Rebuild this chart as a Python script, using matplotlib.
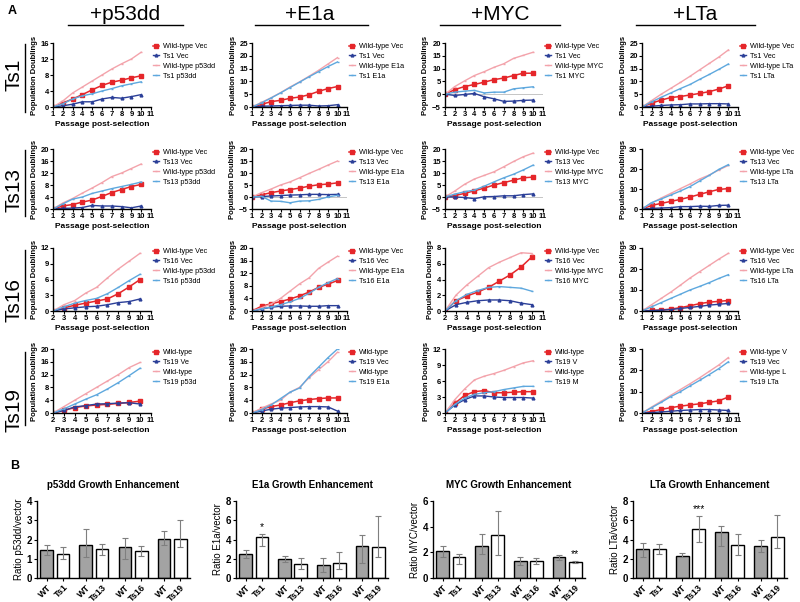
import matplotlib
matplotlib.use("Agg")
import matplotlib.pyplot as plt
import numpy as np

plt.rcParams['font.family'] = ['Liberation Sans', 'DejaVu Sans']

# ---------------- DATA ----------------
columns = ["+p53dd", "+E1a", "+MYC", "+LTa"]
rows = ["Ts1", "Ts13", "Ts16", "Ts19"]

passages_from1 = [1, 2, 3, 4, 5, 6, 7, 8, 9, 10]
passages_from2 = [2, 3, 4, 5, 6, 7, 8, 9, 10]

# each panel: [WT Vec, Ts Vec, WT +gene, Ts +gene]
ts1_p53dd = [[0, 1.0, 2.0, 3.1, 4.3, 5.4, 6.2, 6.7, 7.3, 7.8],
             [0, 0.3, 0.7, 1.3, 1.3, 2.0, 2.4, 2.2, 2.6, 3.1],
             [0, 1.5, 3.5, 5.0, 6.5, 8.0, 9.5, 10.8, 12.0, 13.7],
             [0, 0.8, 2.0, 2.8, 3.3, 4.0, 4.6, 5.3, 5.8, 6.3]]
ts1_e1a = [[0, 1.0, 2.1, 2.6, 3.4, 3.9, 4.8, 6.1, 7.2, 8.0],
           [0, 0.3, 0.4, 0.5, 0.6, 0.7, 0.7, 0.4, 0.5, 0.9],
           [0, 1.8, 3.6, 5.6, 7.8, 9.8, 12.0, 14.3, 16.8, 19.3],
           [0, 1.6, 3.5, 5.5, 7.6, 9.7, 11.8, 13.8, 15.8, 17.6]]
ts1_myc = [[0, 1.8, 3.0, 3.8, 4.7, 5.7, 6.3, 7.3, 8.2, 8.2],
           [0, -0.5, -0.1, 0.3, -1.0, -1.8, -2.8, -2.7, -2.4, -2.3],
           [0, 3.0, 5.2, 7.3, 8.8, 10.5, 11.9, 14.0, 15.2, 16.4],
           [0, 0.8, 1.2, 1.5, 0.5, 0.8, 0.8, 2.1, 2.5, 2.9]]
ts1_lta = [[0, 1.5, 2.7, 3.7, 4.1, 4.7, 5.3, 6.0, 7.0, 8.3],
           [0, 0.3, 0.6, 0.8, 0.9, 1.2, 1.2, 1.3, 1.3, 1.2],
           [0, 2.5, 5.0, 7.3, 9.6, 12.0, 14.5, 17.0, 19.5, 22.3],
           [0, 2.0, 3.8, 5.5, 7.2, 8.8, 10.8, 12.7, 14.7, 16.8]]

ts13_p53dd = [[0, 1.0, 1.5, 2.3, 3.0, 4.2, 5.5, 6.5, 7.5, 8.2],
              [0, 0.2, 0.3, 0.5, 1.2, 1.0, 1.0, 0.8, 0.4, 1.0],
              [0, 2.0, 3.5, 5.3, 7.0, 8.8, 10.8, 12.0, 13.5, 15.0],
              [0, 1.7, 3.3, 4.0, 5.2, 6.0, 6.8, 7.5, 8.2, 9.0]]
ts13_e1a = [[0, 0.9, 1.8, 2.5, 3.1, 3.7, 4.5, 5.1, 5.4, 5.9],
            [0, 0.2, 0.4, 0.6, 0.8, 0.9, 1.1, 1.1, 1.0, 1.1],
            [0, 1.8, 3.3, 5.0, 6.3, 8.0, 9.8, 11.5, 13.3, 15.0],
            [0, 0.3, -1.7, -1.8, -2.4, -1.7, -1.6, -1.0, 0.0, 0.7]]
ts13_myc = [[0, 0.6, 1.5, 2.6, 3.7, 5.0, 6.0, 7.0, 8.0, 8.3],
            [0, 0.0, -0.2, -0.7, 0.1, 0.2, 0.5, 0.5, 1.0, 1.3],
            [0, 2.5, 5.3, 7.5, 9.0, 10.5, 12.6, 14.8, 16.8, 18.3],
            [0, 1.2, 2.2, 2.9, 4.5, 6.3, 8.0, 9.5, 11.3, 13.3]]
ts13_lta = [[0, 1.8, 2.8, 3.8, 4.8, 6.0, 7.3, 8.6, 9.8, 10.2],
            [0, 0.3, 0.5, 0.7, 1.2, 1.2, 1.4, 1.3, 1.8, 1.9],
            [0, 3.0, 5.5, 7.8, 10.2, 12.5, 15.0, 17.0, 19.5, 21.8],
            [0, 3.2, 5.0, 7.0, 9.0, 11.2, 14.0, 16.8, 19.8, 22.2]]

ts16_p53dd = [[0, 0.6, 1.1, 1.5, 1.9, 2.3, 3.3, 4.6, 6.0],
              [0, 0.4, 0.6, 0.8, 0.9, 1.2, 1.6, 1.8, 2.3],
              [0, 1.2, 2.0, 3.4, 4.5, 6.3, 8.0, 9.5, 11.0],
              [0, 0.8, 1.5, 2.0, 2.4, 3.3, 4.5, 5.8, 7.0]]
ts16_e1a = [[0, 1.5, 2.3, 3.0, 3.8, 4.8, 6.0, 7.5, 8.5, 9.7],
            [0, 0.6, 1.2, 1.5, 1.6, 1.6, 1.5, 1.5, 1.7, 1.7],
            [0, 1.0, 2.2, 4.0, 6.3, 8.6, 10.5, 13.5, 15.5, 17.4],
            [0, 0.7, 1.3, 2.0, 2.9, 4.0, 5.6, 7.5, 9.0, 10.3]]
ts16_myc = [[0, 1.3, 1.9, 2.4, 3.0, 3.8, 4.6, 5.6, 6.9],
            [0, 0.8, 1.1, 1.3, 1.4, 1.4, 1.3, 1.0, 0.8],
            [0, 2.0, 3.3, 4.4, 5.5, 6.2, 6.8, 7.4, 7.3],
            [0, 1.3, 2.1, 2.6, 3.0, 3.1, 3.0, 2.9, 2.5]]
ts16_lta = [[0, 0.3, 0.5, 0.9, 1.6, 2.5, 3.5, 4.2, 4.6, 5.0],
            [0, 0.2, 0.4, 0.7, 1.2, 1.7, 2.2, 2.8, 3.2, 3.6],
            [0, 3.0, 6.0, 9.0, 12.3, 15.7, 18.7, 21.7, 24.7, 27.5],
            [0, 2.0, 4.0, 6.0, 8.0, 10.0, 11.7, 13.5, 15.5, 17.3]]

ts19_p53dd = [[0, 0.8, 1.7, 2.2, 2.5, 2.7, 3.0, 3.3, 3.7],
              [0, 0.8, 1.9, 2.3, 2.8, 2.9, 3.1, 3.2, 2.8],
              [0, 2.0, 4.0, 6.0, 8.0, 10.0, 12.0, 14.2, 15.8],
              [0, 1.3, 2.8, 4.3, 5.7, 7.5, 9.5, 11.7, 14.0]]
ts19_e1a = [[0, 1.2, 2.0, 2.5, 3.2, 3.8, 4.2, 4.5, 4.7, 4.7],
            [0, 0.6, 1.2, 1.5, 1.7, 1.9, 2.0, 2.0, 1.9, 0.6],
            [0, 1.5, 2.8, 4.0, 6.5, 8.0, 11.0, 13.5, 16.0, 19.0],
            [0, 1.0, 2.5, 4.5, 6.5, 7.8, 11.3, 14.3, 17.3, 20.0]]
ts19_myc = [[0, 1.8, 3.3, 4.0, 4.2, 3.8, 3.8, 3.9, 4.0, 4.0],
            [0, 1.5, 2.5, 3.2, 3.2, 3.0, 2.9, 2.9, 2.9, 2.8],
            [0, 2.5, 4.5, 6.2, 6.9, 7.4, 8.0, 8.7, 9.4, 9.8],
            [0, 1.6, 2.8, 3.5, 3.8, 4.0, 4.4, 4.7, 5.0, 5.0]]
ts19_lta = [[0, 0.7, 1.7, 2.5, 3.2, 3.8, 4.3, 5.0, 5.7, 7.5],
            [0, 0.2, 0.5, 0.8, 1.2, 1.4, 1.6, 1.6, 1.4, 1.2],
            [0, 2.8, 5.5, 8.3, 11.0, 13.7, 16.5, 19.5, 22.5, 26.0],
            [0, 2.5, 5.0, 7.7, 10.0, 12.7, 15.3, 18.0, 20.8, 24.0]]

legend_labels = [
    [["Wild-type Vec", "Ts1 Vec", "Wild-type p53dd", "Ts1 p53dd"],
     ["Wild-type Vec", "Ts1 Vec", "Wild-type E1a", "Ts1 E1a"],
     ["Wild-type Vec", "Ts1 Vec", "Wild-type MYC", "Ts1 MYC"],
     ["Wild-type Vec", "Ts1 Vec", "Wild-type LTa", "Ts1 LTa"]],
    [["Wild-type Vec", "Ts13 Vec", "Wild-type p53dd", "Ts13 p53dd"],
     ["Wild-type Vec", "Ts13 Vec", "Wild-type E1a", "Ts13 E1a"],
     ["Wild-type Vec", "Ts13 Vec", "Wild-type MYC", "Ts13 MYC"],
     ["Wild-type Vec", "Ts13 Vec", "Wild-type LTa", "Ts13 LTa"]],
    [["Wild-type Vec", "Ts16 Vec", "Wild-type p53dd", "Ts16 p53dd"],
     ["Wild-type Vec", "Ts16 Vec", "Wild-type E1a", "Ts16 E1a"],
     ["Wild-type Vec", "Ts16 Vec", "Wild-type MYC", "Ts16 MYC"],
     ["Wild-type Vec", "Ts16 Vec", "Wild-type LTa", "Ts16 LTa"]],
    [["Wild-type", "Ts19 Ve", "Wild-type", "Ts19 p53d"],
     ["Wild-type", "Ts19 Vec", "Wild-type", "Ts19 E1a"],
     ["Wild-type", "Ts19 V", "Wild-type", "Ts19 M"],
     ["Wild-type V", "Ts19 Vec", "Wild-type L", "Ts19 LTa"]],
]

# y-axis ticks per panel
yticks_grid = [
    [[0, 4, 8, 12, 16], [0, 5, 10, 15, 20, 25], [-5, 0, 5, 10, 15, 20], [0, 5, 10, 15, 20, 25]],
    [[0, 4, 8, 12, 16, 20], [-5, 0, 5, 10, 15, 20], [-5, 0, 5, 10, 15, 20], [0, 10, 20, 30]],
    [[0, 3, 6, 9, 12], [0, 4, 8, 12, 16, 20], [0, 2, 4, 6, 8], [0, 10, 20, 30]],
    [[0, 4, 8, 12, 16, 20], [0, 4, 8, 12, 16, 20], [0, 3, 6, 9, 12], [0, 10, 20, 30]],
]
x_start_grid = [[1, 1, 1, 1], [1, 1, 1, 1], [2, 1, 2, 1], [2, 1, 1, 1]]

# Panel B
bar_labels = ["WT", "Ts1", "WT", "Ts13", "WT", "Ts16", "WT", "Ts19"]
bar_titles = ["p53dd Growth Enhancement", "E1a Growth Enhancement",
              "MYC Growth Enhancement", "LTa Growth Enhancement"]
bar_ylabels = ["Ratio p53dd/vector", "Ratio E1a/vector", "Ratio MYC/vector", "Ratio LTa/vector"]
bar_yticks = [[0, 1, 2, 3, 4], [0, 2, 4, 6, 8], [0, 2, 4, 6], [0, 2, 4, 6, 8]]

p53dd_ratio = [1.45, 1.27, 1.70, 1.50, 1.60, 1.38, 2.05, 2.02]
p53dd_low = [1.20, 1.00, 1.10, 1.22, 1.00, 1.12, 1.70, 1.62]
p53dd_high = [1.72, 1.60, 2.57, 1.75, 2.08, 1.65, 2.45, 3.00]
e1a_ratio = [2.50, 4.25, 2.00, 1.45, 1.32, 1.60, 3.30, 3.22]
e1a_low = [2.10, 3.30, 1.70, 0.90, 0.60, 0.90, 1.60, 2.20]
e1a_high = [2.90, 4.62, 2.30, 2.05, 2.08, 2.70, 4.50, 6.45]
myc_ratio = [2.07, 1.62, 2.50, 3.32, 1.35, 1.35, 1.60, 1.22]
myc_low = [1.60, 1.10, 1.90, 1.78, 1.00, 1.10, 1.40, 1.15]
myc_high = [2.48, 1.87, 3.40, 5.22, 1.65, 1.55, 1.80, 1.32]
lta_ratio = [3.02, 3.02, 2.32, 5.12, 4.80, 3.45, 3.32, 4.28]
lta_low = [2.20, 2.50, 2.20, 3.70, 3.30, 2.40, 2.70, 3.10]
lta_high = [3.60, 3.55, 2.55, 6.45, 5.45, 4.55, 3.90, 6.55]
bar_stars = [[], [(1, "*")], [(7, "**")], [(3, "***")]]

# ---------------- FIGURE ----------------
W, H = 800, 602
fig = plt.figure(figsize=(W / 100, H / 100), dpi=100)


def add_ax(x0, y0, x1, y1):
    return fig.add_axes([x0 / W, 1 - y1 / H, (x1 - x0) / W, (y1 - y0) / H])


RED = "#e5262a"
DBLUE = "#2b3f98"
PINK = "#f3a3ab"
LBLUE = "#5ea8de"

line_data = [[ts1_p53dd, ts1_e1a, ts1_myc, ts1_lta],
             [ts13_p53dd, ts13_e1a, ts13_myc, ts13_lta],
             [ts16_p53dd, ts16_e1a, ts16_myc, ts16_lta],
             [ts19_p53dd, ts19_e1a, ts19_myc, ts19_lta]]

col_x = [(53, 151), (252, 347), (445, 543), (642, 738)]
row_y = [(43, 107), (149, 209), (248, 311), (349, 413)]

styles = [dict(color=RED, marker="s", ms=2.2, lw=1.1),
          dict(color=DBLUE, marker="^", ms=2.0, lw=1.0),
          dict(color=PINK, marker="_", ms=2.0, lw=1.0),
          dict(color=LBLUE, marker="_", ms=2.0, lw=1.0)]

for r in range(4):
    for c in range(4):
        x0, x1 = col_x[c]
        y0, y1 = row_y[r]
        ax = add_ax(x0, y0, x1, y1)
        xs = passages_from2 if x_start_grid[r][c] == 2 else passages_from1
        yt = yticks_grid[r][c]
        if yt[0] < 0:
            ax.axhline(0, color="#bbbbbb", lw=0.6, zorder=0)
        handles = []
        for k in range(4):
            h, = ax.plot(xs, line_data[r][c][k], **styles[k])
            handles.append(h)
        ax.set_xlim(x_start_grid[r][c], 11)
        ax.set_xticks(range(x_start_grid[r][c], 12))
        ax.set_ylim(yt[0], yt[-1])
        ax.set_yticks(yt)
        for s in ["top", "right"]:
            ax.spines[s].set_visible(False)
        for s in ["left", "bottom"]:
            ax.spines[s].set_linewidth(1.0)
        ax.tick_params(length=2, width=0.8, pad=1, labelsize=5.5)
        for lab in ax.get_xticklabels() + ax.get_yticklabels():
            lab.set_fontweight("bold")
        ax.set_xlabel("Passage post-selection", fontsize=6, fontweight="bold", labelpad=2)
        ax.set_ylabel("Population Doublings", fontsize=5.5, fontweight="bold", labelpad=2)
        ax.legend(handles, legend_labels[r][c], loc="upper left", bbox_to_anchor=(1.02, 1.0),
                  fontsize=5.2, frameon=False, handlelength=0.9,
                  handletextpad=0.45, labelspacing=0.4, borderaxespad=0, borderpad=0)

# headers
header_x = [125, 310, 500, 695]
header_line = [(68, 183), (255, 368), (440, 560), (636, 755)]
for c in range(4):
    fig.text(header_x[c] / W, 1 - 14 / H, columns[c], fontsize=15, ha="center", va="center")
    fig.add_artist(plt.Line2D([header_line[c][0] / W, header_line[c][1] / W],
                              [1 - 25 / H, 1 - 25 / H], color="black", lw=1.0))

row_label_y = [75, 190, 300, 410]
row_line = [(44, 112), (150, 216), (250, 318), (352, 425)]
for r in range(4):
    fig.text(14 / W, 1 - row_label_y[r] / H, rows[r], fontsize=15, rotation=90,
             ha="center", va="center")
    fig.add_artist(plt.Line2D([25 / W, 25 / W], [1 - row_line[r][0] / H, 1 - row_line[r][1] / H],
                              color="black", lw=1.0))

fig.text(12 / W, 1 - 11 / H, "A", fontsize=9, fontweight="bold", ha="center", va="center")
fig.text(15 / W, 1 - 466 / H, "B", fontsize=9, fontweight="bold", ha="center", va="center")

# ---------------- PANEL B ----------------
bar_pos = [0, 1, 2.4, 3.4, 4.8, 5.8, 7.2, 8.2]
bar_cols = ["#a3a3a3", "white"] * 4
bar_x = [(37, 190), (236, 388), (433, 585), (633, 787)]
ratios = [p53dd_ratio, e1a_ratio, myc_ratio, lta_ratio]
lows = [p53dd_low, e1a_low, myc_low, lta_low]
highs = [p53dd_high, e1a_high, myc_high, lta_high]

for p in range(4):
    ax = add_ax(bar_x[p][0], 501, bar_x[p][1], 578)
    vals = np.array(ratios[p])
    lo = np.array(lows[p])
    hi = np.array(highs[p])
    ax.bar(bar_pos, vals, width=0.78, color=bar_cols, edgecolor="black", linewidth=1.0, zorder=2)
    ax.errorbar(bar_pos, vals, yerr=[vals - lo, hi - vals], fmt="none", ecolor="#7f7f7f",
                elinewidth=0.8, capsize=2.2, capthick=0.8, zorder=3)
    for idx, s in bar_stars[p]:
        ax.text(bar_pos[idx], hi[idx] + 0.02 * bar_yticks[p][-1], s, ha="center", va="bottom",
                fontsize=7.5)
    ax.set_xlim(-0.6, 8.8)
    ax.set_ylim(0, bar_yticks[p][-1])
    ax.set_yticks(bar_yticks[p])
    ax.set_xticks(bar_pos)
    ax.set_xticklabels(bar_labels, rotation=45, ha="right", rotation_mode="anchor",
                       fontsize=6.5, fontweight="bold")
    for s in ["top", "right"]:
        ax.spines[s].set_visible(False)
    for s in ["left", "bottom"]:
        ax.spines[s].set_linewidth(1.0)
    ax.tick_params(axis="y", length=2.5, width=0.8, pad=1, labelsize=7)
    ax.tick_params(axis="x", length=2.5, width=0.8, pad=1)
    for lab in ax.get_yticklabels():
        lab.set_fontweight("bold")
    ax.set_ylabel(bar_ylabels[p], fontsize=7, labelpad=2)
    ax.set_title(bar_titles[p], fontsize=7, fontweight="bold", pad=9)

fig.savefig("out.png", dpi=100)
